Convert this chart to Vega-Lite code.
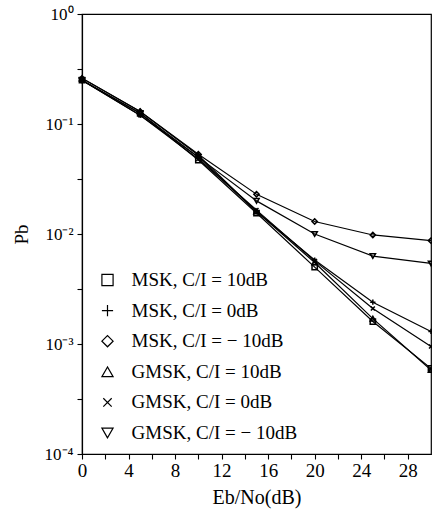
{
  "$schema": "https://vega.github.io/schema/vega-lite/v6.json",
  "width": 349,
  "height": 440,
  "autosize": "none",
  "padding": {"left": 82, "top": 14, "right": 1, "bottom": 67},
  "background": "white",
  "config": {
    "font": "Liberation Serif",
    "view": {"stroke": "black", "strokeWidth": 1.2},
    "axis": {"domainColor": "black", "tickColor": "black", "labelColor": "black", "titleColor": "black", "grid": false, "domainWidth": 1.2, "tickWidth": 1.1, "labelFont": "Liberation Serif", "titleFont": "Liberation Serif", "titleFontWeight": "normal"}
  },
  "data": {
    "values": [
      {"series": "MSK, C/I = 10dB", "ebno": 0, "pb": 0.25},
      {"series": "MSK, C/I = 10dB", "ebno": 5, "pb": 0.125},
      {"series": "MSK, C/I = 10dB", "ebno": 10, "pb": 0.047},
      {"series": "MSK, C/I = 10dB", "ebno": 15, "pb": 0.0155},
      {"series": "MSK, C/I = 10dB", "ebno": 20, "pb": 0.005},
      {"series": "MSK, C/I = 10dB", "ebno": 25, "pb": 0.0016},
      {"series": "MSK, C/I = 10dB", "ebno": 30, "pb": 0.0006},
      {"series": "MSK, C/I = 0dB", "ebno": 0, "pb": 0.25},
      {"series": "MSK, C/I = 0dB", "ebno": 5, "pb": 0.12},
      {"series": "MSK, C/I = 0dB", "ebno": 10, "pb": 0.05},
      {"series": "MSK, C/I = 0dB", "ebno": 15, "pb": 0.016},
      {"series": "MSK, C/I = 0dB", "ebno": 20, "pb": 0.0058},
      {"series": "MSK, C/I = 0dB", "ebno": 25, "pb": 0.0024},
      {"series": "MSK, C/I = 0dB", "ebno": 30, "pb": 0.0013},
      {"series": "MSK, C/I = − 10dB", "ebno": 0, "pb": 0.26},
      {"series": "MSK, C/I = − 10dB", "ebno": 5, "pb": 0.13},
      {"series": "MSK, C/I = − 10dB", "ebno": 10, "pb": 0.053},
      {"series": "MSK, C/I = − 10dB", "ebno": 15, "pb": 0.023},
      {"series": "MSK, C/I = − 10dB", "ebno": 20, "pb": 0.013},
      {"series": "MSK, C/I = − 10dB", "ebno": 25, "pb": 0.0098},
      {"series": "MSK, C/I = − 10dB", "ebno": 30, "pb": 0.0087},
      {"series": "GMSK, C/I = 10dB", "ebno": 0, "pb": 0.26},
      {"series": "GMSK, C/I = 10dB", "ebno": 5, "pb": 0.13},
      {"series": "GMSK, C/I = 10dB", "ebno": 10, "pb": 0.052},
      {"series": "GMSK, C/I = 10dB", "ebno": 15, "pb": 0.016},
      {"series": "GMSK, C/I = 10dB", "ebno": 20, "pb": 0.0055},
      {"series": "GMSK, C/I = 10dB", "ebno": 25, "pb": 0.0017},
      {"series": "GMSK, C/I = 10dB", "ebno": 30, "pb": 0.00058},
      {"series": "GMSK, C/I = 0dB", "ebno": 0, "pb": 0.25},
      {"series": "GMSK, C/I = 0dB", "ebno": 5, "pb": 0.12},
      {"series": "GMSK, C/I = 0dB", "ebno": 10, "pb": 0.048},
      {"series": "GMSK, C/I = 0dB", "ebno": 15, "pb": 0.0165},
      {"series": "GMSK, C/I = 0dB", "ebno": 20, "pb": 0.0057},
      {"series": "GMSK, C/I = 0dB", "ebno": 25, "pb": 0.0021},
      {"series": "GMSK, C/I = 0dB", "ebno": 30, "pb": 0.00095},
      {"series": "GMSK, C/I = − 10dB", "ebno": 0, "pb": 0.25},
      {"series": "GMSK, C/I = − 10dB", "ebno": 5, "pb": 0.125},
      {"series": "GMSK, C/I = − 10dB", "ebno": 10, "pb": 0.05},
      {"series": "GMSK, C/I = − 10dB", "ebno": 15, "pb": 0.02},
      {"series": "GMSK, C/I = − 10dB", "ebno": 20, "pb": 0.01},
      {"series": "GMSK, C/I = − 10dB", "ebno": 25, "pb": 0.0063},
      {"series": "GMSK, C/I = − 10dB", "ebno": 30, "pb": 0.0054}
    ]
  },
  "encoding": {
    "x": {
      "field": "ebno", "type": "quantitative",
      "scale": {"domain": [0, 30], "nice": false, "zero": false},
      "axis": {
        "title": "Eb/No(dB)", "titleFontSize": 20, "titlePadding": 7,
        "values": [0, 2, 4, 6, 8, 10, 12, 14, 16, 18, 20, 22, 24, 26, 28],
        "labelExpr": "datum.value % 4 == 0 ? datum.label : ''",
        "labelFontSize": 19, "tickSize": 5, "labelPadding": 2, "labelFlush": false
      }
    },
    "y": {
      "field": "pb", "type": "quantitative",
      "scale": {"type": "log", "domain": [0.0001, 1], "nice": false},
      "axis": {
        "title": "Pb", "titleFontSize": 19, "titlePadding": 13,
        "values": [1, 0.316, 0.1, 0.0316, 0.01, 0.00316, 0.001, 0.000316, 0.0001],
        "labelExpr": "datum.value > 0.5 ? '10⁰' : (datum.value > 0.05 && datum.value < 0.2) ? '10⁻¹' : (datum.value > 0.005 && datum.value < 0.02) ? '10⁻²' : (datum.value > 0.0005 && datum.value < 0.002) ? '10⁻³' : (datum.value < 0.0002) ? '10⁻⁴' : ''",
        "labelFontSize": 17, "tickSize": 5, "labelPadding": 4, "labelFlush": false
      }
    }
  },
  "layer": [
    {
      "mark": {"type": "line", "stroke": "black", "strokeWidth": 1.2},
      "encoding": {"detail": {"field": "series"}}
    },
    {
      "mark": {"type": "point", "filled": false, "stroke": "black", "strokeWidth": 1.5, "size": 28, "opacity": 1},
      "encoding": {
        "shape": {
          "field": "series", "type": "nominal",
          "scale": {
            "domain": ["MSK, C/I = 10dB", "MSK, C/I = 0dB", "MSK, C/I = − 10dB", "GMSK, C/I = 10dB", "GMSK, C/I = 0dB", "GMSK, C/I = − 10dB"],
            "range": ["square", "M-1,0H1M0,-1V1", "diamond", "triangle-up", "M-0.75,-0.75L0.75,0.75M-0.75,0.75L0.75,-0.75", "triangle-down"]
          },
          "legend": {
            "orient": "none", "legendX": 16, "legendY": 256.5, "title": null,
            "padding": 0, "labelFontSize": 19, "labelFont": "Liberation Serif", "labelColor": "black", "labelLimit": 400,
            "symbolSize": 125, "symbolStrokeWidth": 1.2, "symbolStrokeColor": "black", "symbolFillColor": "transparent",
            "rowPadding": 10.6, "labelOffset": 14.6, "symbolType": "circle"
          }
        }
      }
    }
  ]
}
